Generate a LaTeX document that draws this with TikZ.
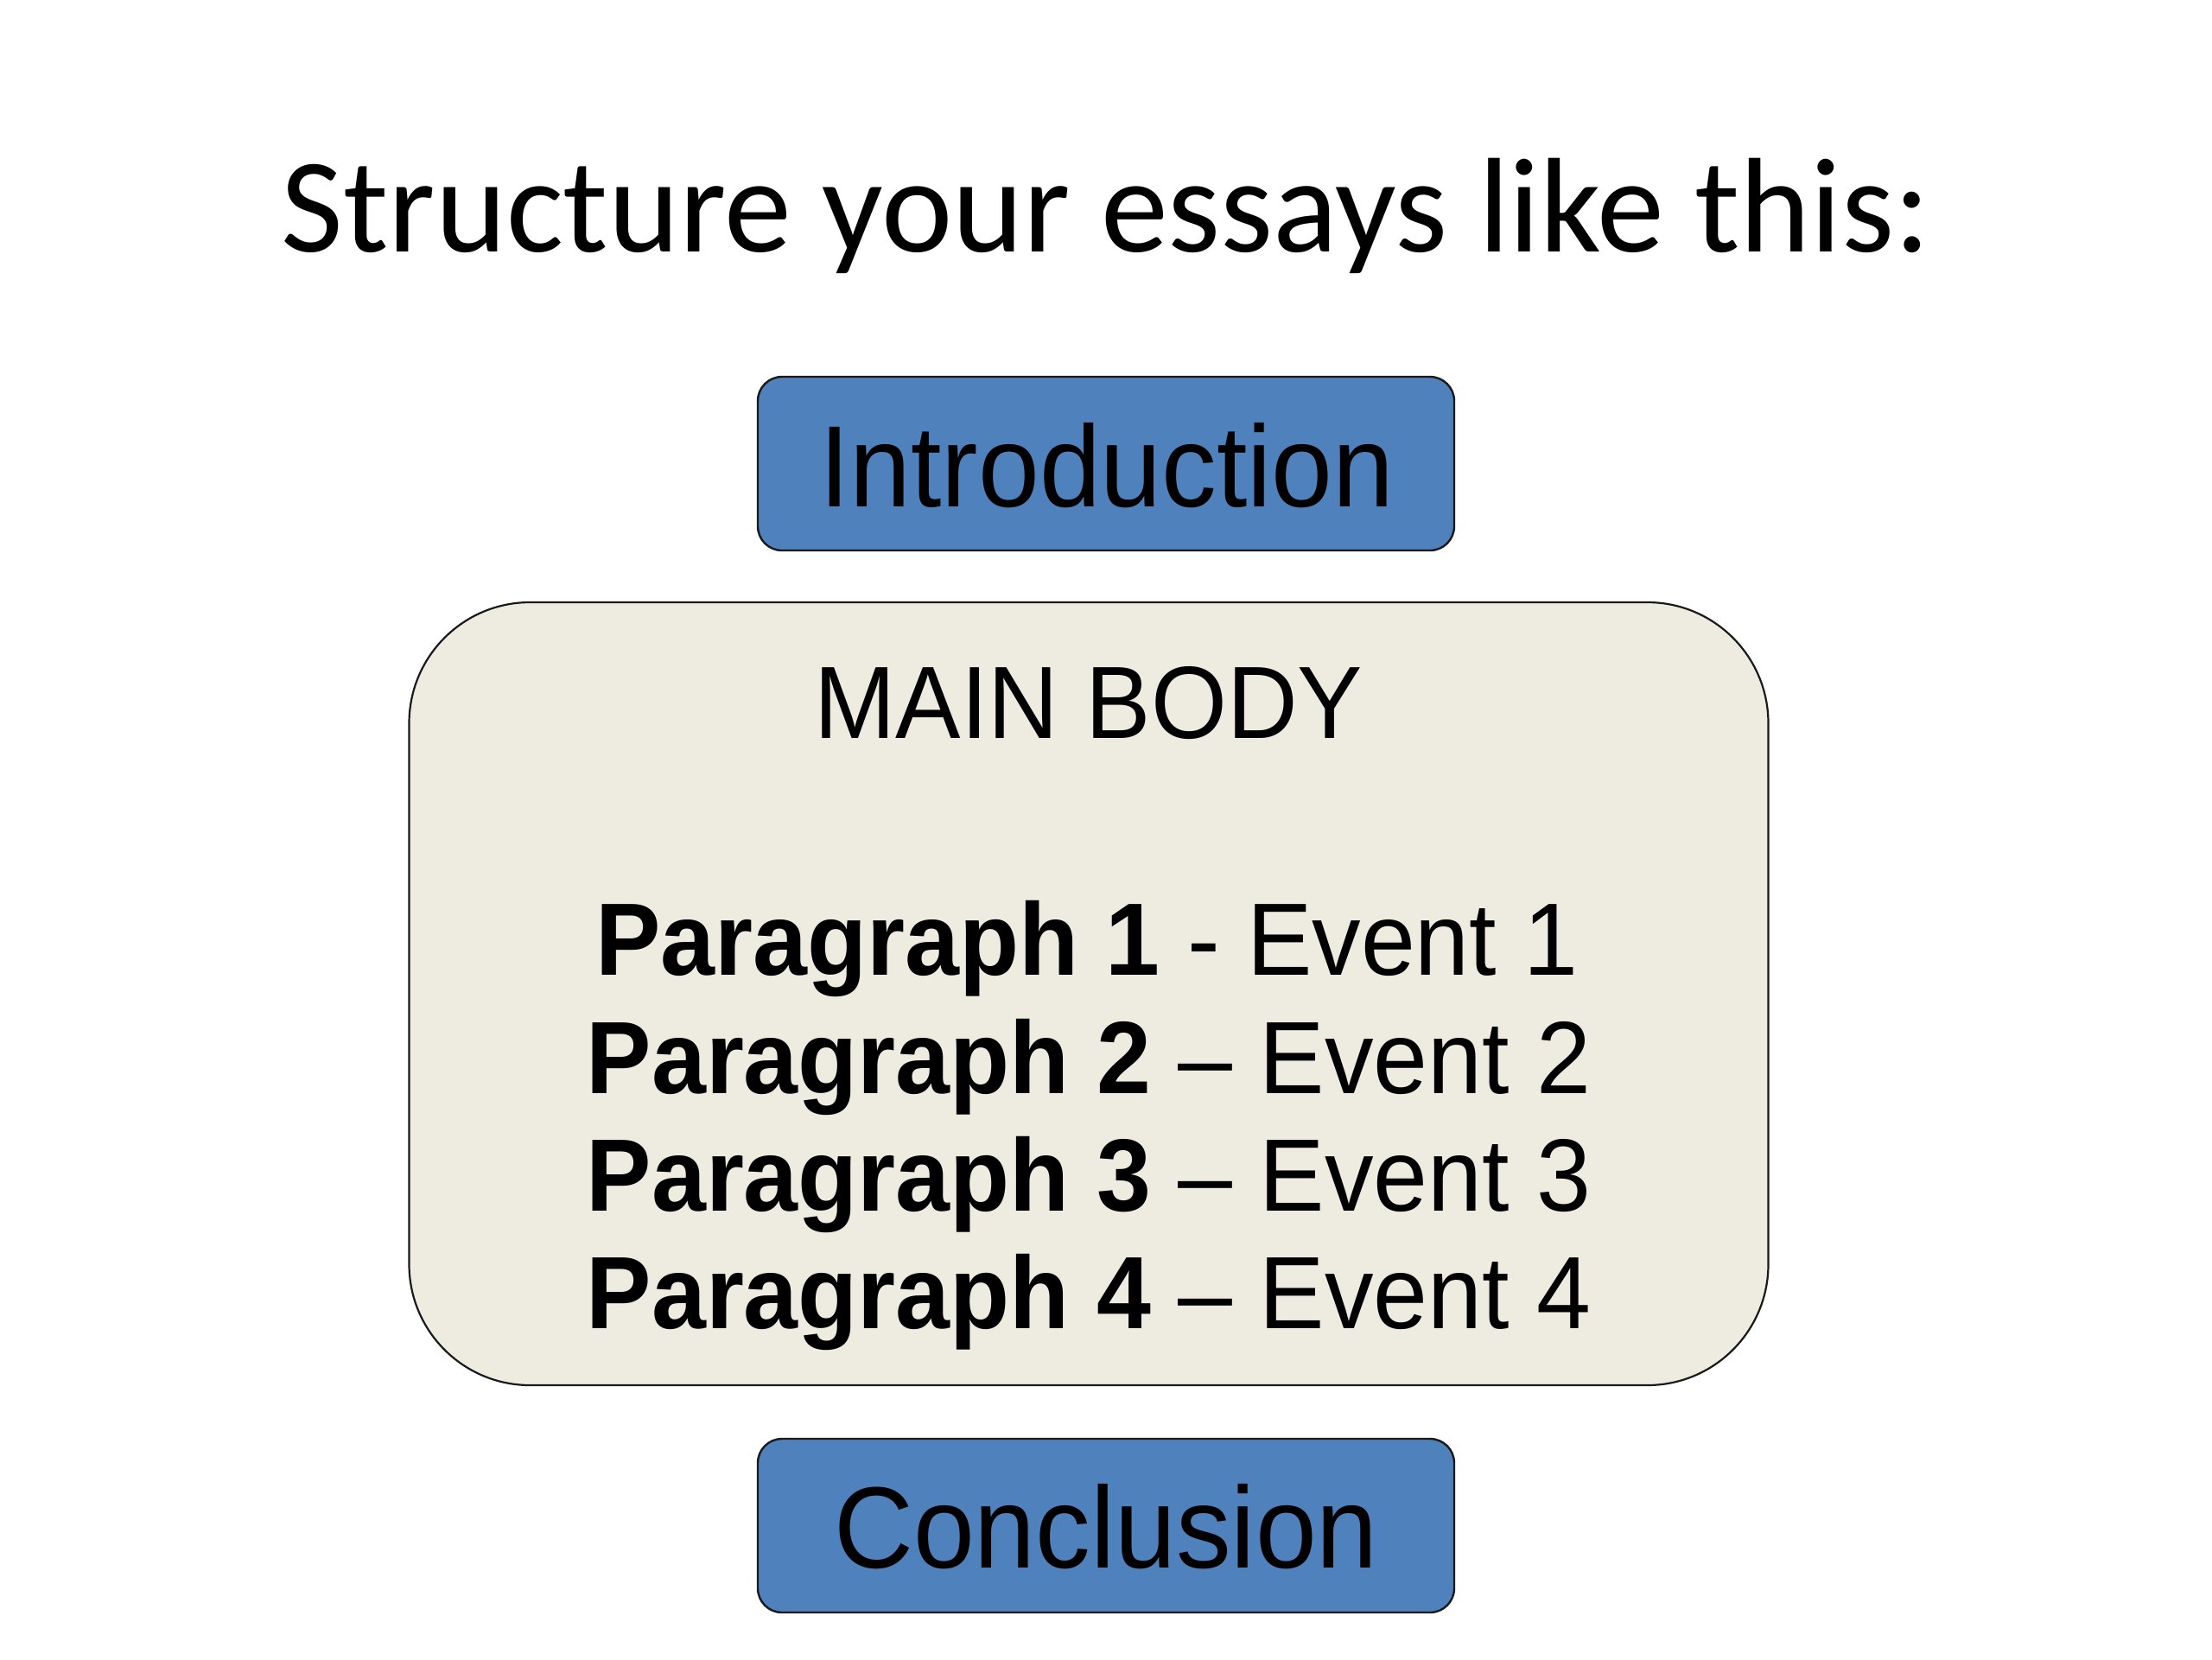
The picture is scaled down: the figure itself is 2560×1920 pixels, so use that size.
\documentclass[tikz,border=0pt]{standalone}
\usepackage{fontspec}
\setmainfont{Liberation Sans}
\newfontfamily\titlefont{Carlito}
\newfontfamily\boxfont[FakeStretch=0.95]{Liberation Sans}
\definecolor{boxblue}{HTML}{4F81BD}
\definecolor{bodyfill}{HTML}{EEECE1}
\definecolor{edgecol}{HTML}{1A1A1A}
\begin{document}
\begin{tikzpicture}[x=0.25pt,y=-0.25pt,
  bluebox/.style={draw=edgecol, line width=0.6pt, fill=boxblue, rounded corners=7pt,
    minimum width=201.5pt, minimum height=50.25pt, inner sep=0pt},
  bodybox/.style={draw=edgecol, line width=0.55pt, fill=bodyfill, rounded corners=35pt,
    minimum width=393.25pt, minimum height=226.5pt, inner sep=0pt},
  bigtext/.style={anchor=base, inner sep=0pt, font=\boxfont\fontsize{33.5pt}{40pt}\selectfont},
  bodytext/.style={anchor=base, inner sep=0pt, font=\boxfont\fontsize{29.75pt}{36pt}\selectfont},
  titletext/.style={anchor=base, inner sep=0pt, font=\titlefont\fontsize{39pt}{46pt}\selectfont}]
\useasboundingbox[fill=white] (0,0) rectangle (2560,1920);

\node[titletext] (title) at (1280,291) {Structure your essays like this:};

\node[bluebox] (intro) at (1280,536.5) {};
\node[bigtext] (introtext) at (1281,586) {Introduction};

\node[bodybox] (body) at (1260,1150) {};
\node[bodytext] (bodytitle) at (1260,854) {MAIN BODY};
\node[bodytext] (p1) at (1258,1128) {\textbf{Paragraph 1} - Event 1};
\node[bodytext] (p2) at (1260,1265) {\textbf{Paragraph 2} – Event 2};
\node[bodytext] (p3) at (1260,1401) {\textbf{Paragraph 3} – Event 3};
\node[bodytext] (p4) at (1260,1537) {\textbf{Paragraph 4} – Event 4};

\node[bluebox] (concl) at (1280,1765.5) {};
\node[bigtext] (concltext) at (1280,1814) {Conclusion};
\end{tikzpicture}
\end{document}
